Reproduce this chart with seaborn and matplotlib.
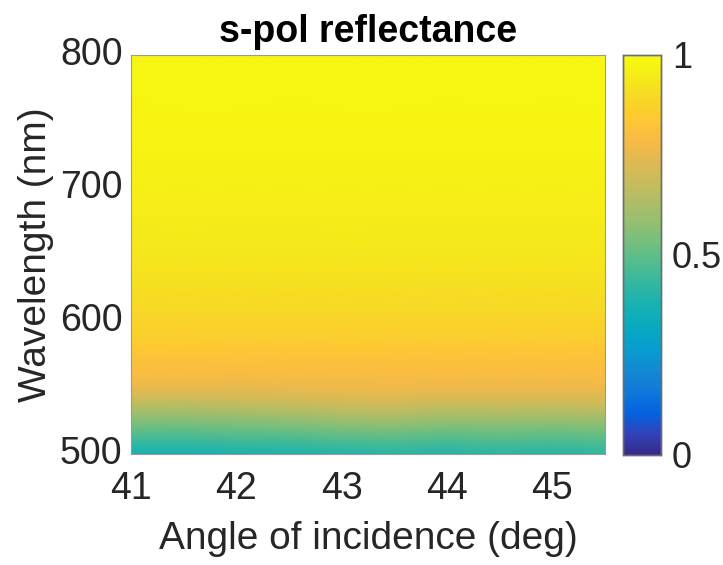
import numpy as np
import pandas as pd
import matplotlib
matplotlib.use("Agg")
import matplotlib.pyplot as plt
from matplotlib.colors import LinearSegmentedColormap
import seaborn as sns

# Simulation grid: angle of incidence (deg) and wavelength (nm)
angles = [41.0, 41.5, 42.0, 42.5, 43.0, 43.5, 44.0, 44.5, 45.0, 45.5]
wavelengths = list(range(800, 499, -10))

# s-polarised reflectance, one row per wavelength (800 nm first)
reflectance = [
    [0.980, 0.980, 0.981, 0.980, 0.980, 0.981, 0.980, 0.980, 0.981, 0.980],  # 800
    [0.980, 0.980, 0.980, 0.980, 0.980, 0.980, 0.980, 0.980, 0.980, 0.980],  # 790
    [0.979, 0.979, 0.980, 0.979, 0.979, 0.980, 0.979, 0.979, 0.980, 0.979],  # 780
    [0.978, 0.978, 0.979, 0.978, 0.978, 0.978, 0.978, 0.978, 0.978, 0.978],  # 770
    [0.976, 0.977, 0.977, 0.976, 0.977, 0.977, 0.976, 0.977, 0.976, 0.977],  # 760
    [0.974, 0.975, 0.975, 0.974, 0.975, 0.975, 0.974, 0.975, 0.974, 0.975],  # 750
    [0.972, 0.972, 0.973, 0.972, 0.972, 0.973, 0.972, 0.972, 0.973, 0.972],  # 740
    [0.969, 0.970, 0.970, 0.969, 0.970, 0.970, 0.969, 0.970, 0.969, 0.970],  # 730
    [0.966, 0.967, 0.966, 0.967, 0.966, 0.967, 0.966, 0.967, 0.966, 0.967],  # 720
    [0.963, 0.963, 0.964, 0.963, 0.963, 0.964, 0.962, 0.963, 0.963, 0.963],  # 710
    [0.959, 0.960, 0.960, 0.959, 0.960, 0.960, 0.959, 0.959, 0.960, 0.959],  # 700
    [0.955, 0.956, 0.956, 0.955, 0.955, 0.956, 0.955, 0.955, 0.956, 0.955],  # 690
    [0.950, 0.951, 0.951, 0.950, 0.950, 0.951, 0.950, 0.950, 0.951, 0.950],  # 680
    [0.945, 0.946, 0.945, 0.945, 0.946, 0.945, 0.944, 0.945, 0.945, 0.945],  # 670
    [0.939, 0.940, 0.939, 0.939, 0.940, 0.939, 0.938, 0.939, 0.939, 0.939],  # 660
    [0.932, 0.933, 0.932, 0.932, 0.933, 0.932, 0.931, 0.932, 0.932, 0.932],  # 650
    [0.924, 0.925, 0.924, 0.924, 0.925, 0.924, 0.923, 0.924, 0.924, 0.924],  # 640
    [0.915, 0.916, 0.915, 0.915, 0.916, 0.915, 0.914, 0.915, 0.915, 0.915],  # 630
    [0.904, 0.905, 0.904, 0.904, 0.905, 0.904, 0.903, 0.904, 0.904, 0.904],  # 620
    [0.892, 0.893, 0.892, 0.892, 0.893, 0.891, 0.891, 0.892, 0.892, 0.892],  # 610
    [0.878, 0.878, 0.877, 0.877, 0.878, 0.876, 0.876, 0.877, 0.877, 0.877],  # 600
    [0.862, 0.862, 0.861, 0.861, 0.862, 0.860, 0.860, 0.861, 0.861, 0.861],  # 590
    [0.836, 0.836, 0.835, 0.835, 0.836, 0.834, 0.834, 0.835, 0.835, 0.835],  # 580
    [0.816, 0.816, 0.815, 0.815, 0.816, 0.815, 0.814, 0.816, 0.815, 0.816],  # 570
    [0.793, 0.793, 0.792, 0.793, 0.796, 0.796, 0.793, 0.795, 0.794, 0.796],  # 560
    [0.752, 0.750, 0.752, 0.756, 0.765, 0.768, 0.762, 0.765, 0.762, 0.767],  # 550
    [0.682, 0.678, 0.688, 0.695, 0.712, 0.716, 0.702, 0.708, 0.700, 0.710],  # 540
    [0.600, 0.596, 0.608, 0.616, 0.638, 0.642, 0.624, 0.632, 0.622, 0.635],  # 530
    [0.518, 0.514, 0.525, 0.532, 0.550, 0.556, 0.540, 0.550, 0.542, 0.554],  # 520
    [0.442, 0.440, 0.450, 0.456, 0.470, 0.478, 0.464, 0.478, 0.470, 0.482],  # 510
    [0.365, 0.368, 0.380, 0.388, 0.396, 0.408, 0.400, 0.416, 0.410, 0.424],  # 500
]

# Parula-style colour ramp
parula_colors = [
    (0.2081, 0.1663, 0.5292), (0.1959, 0.2645, 0.7279), (0.0117, 0.3875, 0.8820),
    (0.0629, 0.4737, 0.8554), (0.0749, 0.5375, 0.8263), (0.0265, 0.6137, 0.8135),
    (0.0267, 0.6642, 0.7607), (0.0843, 0.6928, 0.7062), (0.1801, 0.7177, 0.6424),
    (0.3022, 0.7376, 0.5712), (0.4420, 0.7481, 0.5033), (0.5709, 0.7485, 0.4494),
    (0.6834, 0.7435, 0.4044), (0.7858, 0.7356, 0.3633), (0.8824, 0.7274, 0.3217),
    (0.9739, 0.7314, 0.2666), (0.9955, 0.7861, 0.1967), (0.9698, 0.8481, 0.1475),
    (0.9598, 0.9218, 0.0948), (0.9763, 0.9831, 0.0538),
]
parula = LinearSegmentedColormap.from_list("parula", parula_colors, N=256)

df = pd.DataFrame(reflectance, index=wavelengths, columns=angles)

sns.set_theme(style="white")
plt.rcParams["font.family"] = ["Liberation Sans", "DejaVu Sans"]

FS = 27
fig = plt.figure(figsize=(7.23, 5.65), dpi=100)
ax = fig.add_axes([131 / 723, 1 - 454 / 565, 474 / 723, 399 / 565])
cax = fig.add_axes([623 / 723, 1 - 455 / 565, 38 / 723, 400 / 565])

sns.heatmap(df, ax=ax, cbar_ax=cax, cmap=parula, vmin=0, vmax=1,
            shading="gouraud", rasterized=True)

# Gouraud mesh spans node centres: fit the limits to the grid nodes
ax.set_xlim(0, len(angles) - 1)
ax.set_ylim(len(wavelengths) - 1, 0)

step_a = angles[1] - angles[0]
xt = [41, 42, 43, 44, 45]
ax.set_xticks([(a - angles[0]) / step_a for a in xt])
ax.set_xticklabels([str(a) for a in xt], rotation=0)

step_w = wavelengths[0] - wavelengths[1]
yt = [800, 700, 600, 500]
ax.set_yticks([(wavelengths[0] - w) / step_w for w in yt])
ax.set_yticklabels([str(w) for w in yt], rotation=0)

ax.tick_params(axis="both", length=0, labelsize=FS, colors="#262626")
ax.tick_params(axis="x", pad=12)
ax.tick_params(axis="y", pad=6)
ax.set_xlabel("Angle of incidence (deg)", fontsize=FS + 1, color="#262626", labelpad=10)
ax.set_ylabel("Wavelength (nm)", fontsize=FS + 1, color="#262626", labelpad=4)
ax.set_title("s-pol reflectance", fontsize=FS, fontweight="bold", pad=9, color="black")

for sp in ax.spines.values():
    sp.set_visible(True)
    sp.set_color("#9a9a9a")
    sp.set_linewidth(0.8)

cax.set_yticks([0, 0.5, 1])
cax.set_yticklabels(["0", "0.5", "1"])
cax.tick_params(length=0, labelsize=FS - 1, colors="#262626", pad=8)
for sp in cax.spines.values():
    sp.set_visible(True)
    sp.set_color("#6e6e6e")
    sp.set_linewidth(1.0)

fig.savefig("out.png", dpi=100, facecolor="white")
